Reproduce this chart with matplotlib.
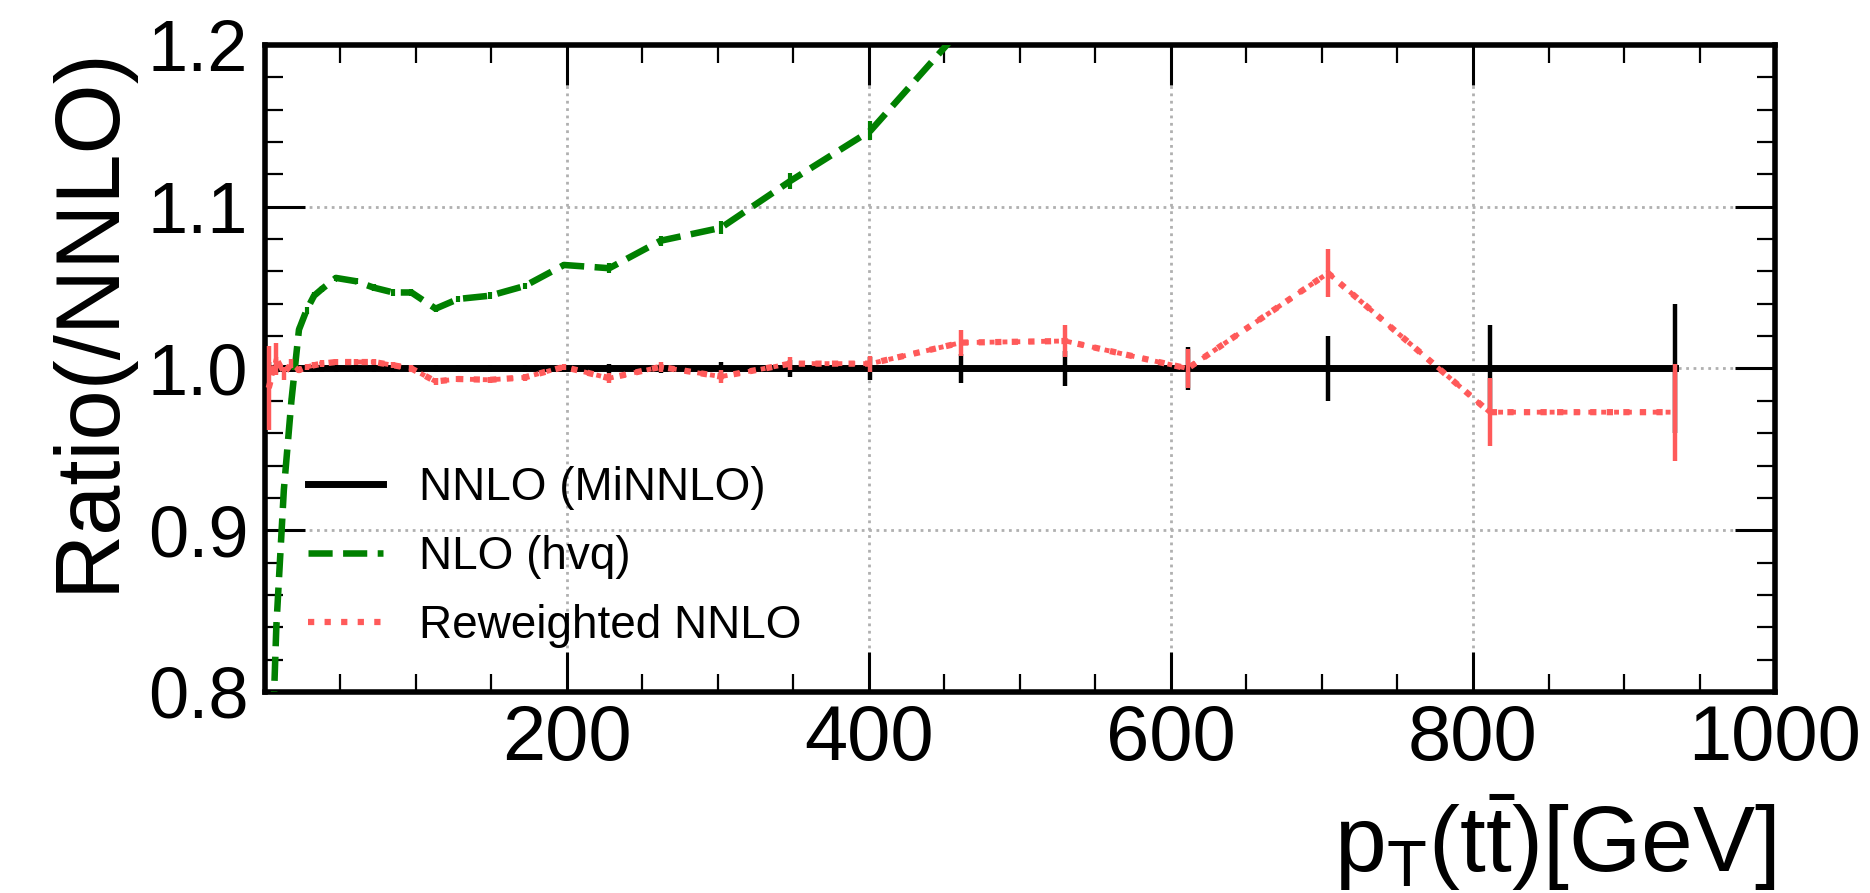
import matplotlib
matplotlib.use('Agg')
import matplotlib.pyplot as plt
from matplotlib.ticker import MultipleLocator

plt.rcParams['font.family'] = ['Liberation Sans', 'DejaVu Sans']
plt.rcParams['mathtext.fontset'] = 'custom'
plt.rcParams['mathtext.rm'] = 'Liberation Sans'
plt.rcParams['mathtext.it'] = 'Liberation Sans'

# bin centres, pT(ttbar) in GeV
pt = [2.5, 7.5, 12.5, 17.5, 22.5, 27.5, 32.5, 37.5, 47, 60, 72, 85, 97, 113, 128,
      149, 172, 198, 228, 262, 302, 348, 401, 461, 530, 611, 704, 811, 934]

# NNLO (MiNNLO) reference = 1, stat. error
nnlo = [1.0] * len(pt)
nnlo_err = [0.004, 0.003, 0.002, 0.002, 0.002, 0.002, 0.002, 0.002, 0.002, 0.002, 0.002,
            0.002, 0.002, 0.002, 0.002, 0.002, 0.002, 0.002, 0.003, 0.003, 0.004, 0.005,
            0.007, 0.009, 0.011, 0.013, 0.020, 0.027, 0.040]

# NLO (hvq) / NNLO  (leaves the frame above 1.2 after ~450 GeV)
pt_nlo = pt[:24]
nlo = [0.70, 0.84, 0.925, 0.98, 1.024, 1.036, 1.045, 1.049, 1.056, 1.054, 1.050, 1.047,
       1.047, 1.037, 1.043, 1.045, 1.051, 1.064, 1.062, 1.079, 1.087, 1.116, 1.147, 1.21]
nlo_err = [0.004, 0.003, 0.002, 0.002, 0.002, 0.002, 0.002, 0.002, 0.002, 0.002, 0.002,
           0.002, 0.002, 0.002, 0.002, 0.002, 0.002, 0.002, 0.003, 0.003, 0.004, 0.005,
           0.006, 0.007]

# Reweighted NNLO / NNLO
rw = [0.988, 1.006, 0.997, 1.003, 0.999, 1.001, 1.002, 1.003, 1.004, 1.004, 1.004, 1.002,
      1.000, 0.992, 0.9935, 0.993, 0.9945, 1.001, 0.994, 1.001, 0.995, 1.003, 1.003,
      1.016, 1.017, 1.000, 1.059, 0.973, 0.973]
rw_err = [0.026, 0.010, 0.004, 0.003, 0.002, 0.002, 0.002, 0.002, 0.002, 0.002, 0.002,
          0.002, 0.002, 0.002, 0.002, 0.002, 0.002, 0.002, 0.003, 0.003, 0.004, 0.004,
          0.005, 0.008, 0.010, 0.012, 0.015, 0.021, 0.030]

red = '#ff5a5a'
green = '#008000'

fig = plt.figure(figsize=(18.7, 8.93), dpi=100)
ax = fig.add_axes([0.1417, 0.2251, 0.8075, 0.7245])

ax.errorbar(pt, nnlo, yerr=nnlo_err, fmt='none', ecolor='black', elinewidth=3.2, zorder=3)
ax.plot(pt, nnlo, color='black', lw=5, ls='-', label='NNLO (MiNNLO)', zorder=3)

ax.errorbar(pt_nlo, nlo, yerr=nlo_err, fmt='none', ecolor=green, elinewidth=3, zorder=4)
ax.plot(pt_nlo, nlo, color=green, lw=4.7, ls='--', label='NLO (hvq)', zorder=4)

ax.errorbar(pt, rw, yerr=rw_err, fmt=':', color=red, lw=3.5, elinewidth=3.2, zorder=5)
ax.plot(pt, rw, color=red, lw=4.5, ls=':', label='Reweighted NNLO', zorder=5)

ax.set_xlim(0, 1000)
ax.set_ylim(0.8, 1.2)
ax.set_xticks([200, 400, 600, 800, 1000])
ax.set_yticks([0.8, 0.9, 1.0, 1.1, 1.2])
ax.set_yticklabels(['0.8', '0.9', '1.0', '1.1', '1.2'])
ax.xaxis.set_minor_locator(MultipleLocator(50))
ax.yaxis.set_minor_locator(MultipleLocator(0.02))

ax.tick_params(which='both', direction='in', top=True, right=True)
ax.tick_params(which='major', length=29, width=2.2)
ax.tick_params(which='minor', length=13, width=1.6)
ax.tick_params(axis='x', which='major', pad=8, labelsize=56)
ax.tick_params(axis='y', which='major', pad=12, labelsize=52)
for s in ax.spines.values():
    s.set_linewidth(4)

ax.grid(True, which='major', ls=':', color='#b0b0b0', lw=2)
ax.set_axisbelow(True)

ax.set_ylabel('Ratio(/NNLO)', fontsize=65, loc='top', labelpad=12)
ax.set_xlabel(r'$\mathrm{p_{T}(t\bar{t})[GeV]}$', fontsize=67, loc='right', labelpad=12)

ax.legend(loc='center left', bbox_to_anchor=(0.0285, 0.2087), frameon=False, fontsize=33,
          handlelength=1.64, handletextpad=0.78, labelspacing=0.55, borderpad=0,
          borderaxespad=0)

fig.savefig('out.png', dpi=100)
